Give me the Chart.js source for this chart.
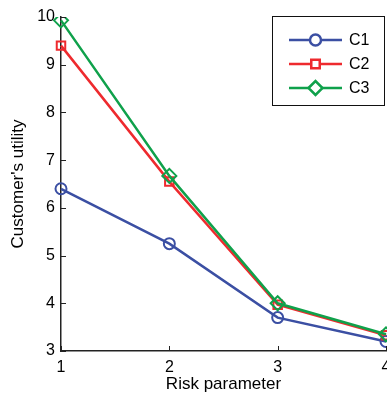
<!DOCTYPE html>
<html>
<head>
<meta charset="utf-8">
<script src="https://cdn.jsdelivr.net/npm/chart.js@4.4.1/dist/chart.umd.min.js"></script>
<style>
  html, body { margin: 0; padding: 0; background: #fff; overflow: hidden; }
  #wrap { width: 400px; height: 395px; position: relative; }
</style>
</head>
<body>
<div id="wrap"><canvas id="c"></canvas></div>
<script>
var categories = ['1', '2', '3', '4'];
var c1 = [6.4, 5.25, 3.7, 3.2];
var c2 = [9.4, 6.55, 3.97, 3.33];
var c3 = [9.93, 6.67, 4.0, 3.35];
var seriesNames = ['C1', 'C2', 'C3'];
var yTicks = [3, 4, 5, 6, 7, 8, 9, 10];

var blue = '#3b4fa3';
var red = '#ee2a2e';
var green = '#0fa14b';
var axisColor = '#222';
var font = 'Liberation Sans, Arial, sans-serif';

// MATLAB style ticks pointing into the plot
var innerTicks = {
  id: 'innerTicks',
  afterDatasetsDraw: function (chart) {
    var ctx = chart.ctx;
    var a = chart.chartArea;
    var x = chart.scales.x, y = chart.scales.y;
    ctx.save();
    ctx.strokeStyle = axisColor;
    ctx.lineWidth = 1;
    x.ticks.forEach(function (t, i) {
      var px = Math.round(x.getPixelForTick(i)) + 0.5;
      ctx.beginPath(); ctx.moveTo(px, a.bottom); ctx.lineTo(px, a.bottom - 5); ctx.stroke();
    });
    y.ticks.forEach(function (t) {
      var py = Math.round(y.getPixelForValue(t.value)) + 0.5;
      ctx.beginPath(); ctx.moveTo(a.left, py); ctx.lineTo(a.left + 5, py); ctx.stroke();
    });
    ctx.restore();
  }
};

// boxed legend in the top-right corner
var boxLegend = {
  id: 'boxLegend',
  afterDraw: function (chart) {
    var ctx = chart.ctx;
    var left = 272, top = 16, w = 112, h = 89;
    ctx.save();
    ctx.fillStyle = '#fff';
    ctx.fillRect(left, top, w, h);
    ctx.strokeStyle = '#111';
    ctx.lineWidth = 1;
    ctx.strokeRect(left + 0.5, top + 0.5, w, h);
    chart.data.datasets.forEach(function (ds, i) {
      var cy = top + 24 + i * 24;
      ctx.strokeStyle = ds.borderColor;
      ctx.lineWidth = ds.borderWidth;
      ctx.beginPath(); ctx.moveTo(289, cy); ctx.lineTo(342, cy); ctx.stroke();
      ctx.fillStyle = '#fff';
      Chart.helpers.drawPoint(ctx, {
        pointStyle: ds.pointStyle, radius: ds.pointRadius,
        borderWidth: ds.pointBorderWidth, rotation: 0
      }, 315.5, cy);
      ctx.fillStyle = '#000';
      ctx.font = '16px ' + font;
      ctx.textBaseline = 'middle';
      ctx.fillText(ds.label, 349, cy + 1);
    });
    ctx.restore();
  }
};

function series(label, data, color, style, r, order) {
  return {
    label: label, data: data, borderColor: color, borderWidth: 2.5,
    pointStyle: style, pointRadius: r, pointHoverRadius: r,
    pointBorderColor: color, pointBackgroundColor: 'rgba(0,0,0,0)',
    pointBorderWidth: 2, tension: 0, order: order
  };
}

new Chart(document.getElementById('c'), {
  type: 'line',
  data: {
    labels: categories,
    datasets: [
      series(seriesNames[0], c1, blue, 'circle', 5.5, 2),
      series(seriesNames[1], c2, red, 'rect', 6, 1),
      series(seriesNames[2], c3, green, 'rectRot', 7, 0)
    ]
  },
  options: {
    responsive: true,
    maintainAspectRatio: false,
    animation: false,
    events: [],
    layout: { padding: { left: 0, top: 17, right: 14, bottom: 0 } },
    plugins: { legend: { display: false }, tooltip: { enabled: false } },
    scales: {
      x: {
        offset: false,
        grid: { display: true, drawOnChartArea: false, drawTicks: false },
        border: { display: true, color: axisColor, width: 1.5 },
        ticks: { color: '#000', font: { family: font, size: 16 }, padding: 7, maxRotation: 0 },
        title: { display: true, text: 'Risk parameter', color: '#000', font: { family: font, size: 17 }, padding: { top: 0, bottom: 0 } },
        afterFit: function (s) { s.height = 44; }
      },
      y: {
        min: 3, max: 10,
        grid: { display: true, drawOnChartArea: false, drawTicks: false },
        border: { display: true, color: axisColor, width: 1.5 },
        afterBuildTicks: function (s) { s.ticks = yTicks.map(function (v) { return { value: v }; }); },
        ticks: { color: '#000', font: { family: font, size: 16 }, padding: 6 },
        title: { display: true, text: "Customer's utility", color: '#000', font: { family: font, size: 17 }, padding: { top: 8, bottom: 0 } },
        afterFit: function (s) { s.width = 61; }
      }
    }
  },
  plugins: [innerTicks, boxLegend]
});
</script>
</body>
</html>
